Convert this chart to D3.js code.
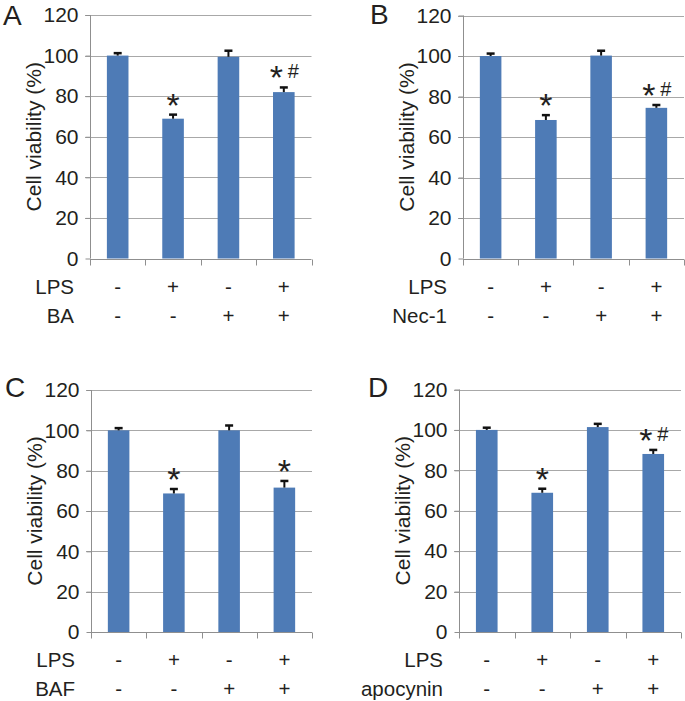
<!DOCTYPE html>
<html>
<head>
<meta charset="utf-8">
<script src="https://cdn.jsdelivr.net/npm/d3@7"></script>
<style>
  html, body { margin: 0; padding: 0; background: #fff; }
  svg text { font-family: "Liberation Sans", Arial, sans-serif; fill: #231f20; }
</style>
</head>
<body>
<svg id="chart" width="685" height="701"></svg>
<script>
// ---------- data ----------
const categories = ["g1", "g2", "g3", "g4"];
const yTicks = [0, 20, 40, 60, 80, 100, 120];
const panelLetters = ["A", "B", "C", "D"];
const treatmentNames = ["BA", "Nec-1", "BAF", "apocynin"];
const lpsSigns = ["-", "+", "-", "+"];
const treatmentSigns = ["-", "-", "+", "+"];

const valuesA = [100, 68.9, 99.4, 82.0];
const errorsA = [1.2, 2.0, 3.0, 2.3];
const starsA = ["", "*", "", "*"];
const hashesA = ["", "", "", "#"];

const valuesB = [100, 68.4, 100.2, 74.4];
const errorsB = [1.2, 2.4, 2.4, 1.4];
const starsB = ["", "*", "", "*"];
const hashesB = ["", "", "", "#"];

const valuesC = [100, 68.7, 100, 71.6];
const errorsC = [1.1, 2.2, 2.4, 3.3];
const starsC = ["", "*", "", "*"];
const hashesC = ["", "", "", ""];

const valuesD = [100, 68.9, 101.4, 88.1];
const errorsD = [1.1, 2.0, 1.6, 2.0];
const starsD = ["", "*", "", "*"];
const hashesD = ["", "", "", "#"];

// ---------- layout ----------
const panels = [
  { letter: panelLetters[0], treat: treatmentNames[0], values: valuesA, errors: errorsA, stars: starsA, hashes: hashesA,
    left: 90, right: 311.5, top: 15, bottom: 258.5, letterX: 3, letterY: 25 },
  { letter: panelLetters[1], treat: treatmentNames[1], values: valuesB, errors: errorsB, stars: starsB, hashes: hashesB,
    left: 463, right: 684, top: 15.5, bottom: 258.5, letterX: 370, letterY: 24 },
  { letter: panelLetters[2], treat: treatmentNames[2], values: valuesC, errors: errorsC, stars: starsC, hashes: hashesC,
    left: 91, right: 312, top: 390, bottom: 632, letterX: 5, letterY: 397 },
  { letter: panelLetters[3], treat: treatmentNames[3], values: valuesD, errors: errorsD, stars: starsD, hashes: hashesD,
    left: 459, right: 681, top: 389.5, bottom: 632, letterX: 368, letterY: 397 }
];

const barColor = "#4e7bb6";
const gridColor = "#a8a8a8";
const axisColor = "#8f8f8f";

const svg = d3.select("#chart");

panels.forEach(p => {
  const g = svg.append("g");
  const x = d3.scaleBand().domain(categories).range([p.left, p.right]).paddingInner(0.61).paddingOuter(0.305);
  const y = d3.scaleLinear().domain([0, 120]).range([p.bottom, p.top]);

  // gridlines (with small left ticks)
  g.append("g").selectAll("line").data(yTicks.filter(t => t > 0)).join("line")
    .attr("x1", p.left - 5).attr("x2", p.right)
    .attr("y1", d => Math.round(y(d)) + 0.5).attr("y2", d => Math.round(y(d)) + 0.5)
    .attr("stroke", gridColor).attr("stroke-width", 1);

  // y axis
  const yAxis = d3.axisLeft(y).tickValues(yTicks).tickSize(5).tickPadding(7);
  const ya = g.append("g").attr("transform", `translate(${Math.round(p.left) + 0.5},0)`).call(yAxis);
  ya.select(".domain").attr("stroke", axisColor).attr("d", `M0,${y(120)}V${y(0)}`);
  ya.selectAll(".tick line").attr("stroke", axisColor);
  ya.selectAll(".tick text").attr("font-size", 21).attr("fill", "#231f20")
    .style("font-family", '"Liberation Sans", Arial, sans-serif');

  // bars
  g.append("g").selectAll("rect").data(p.values).join("rect")
    .attr("x", (d, i) => x(categories[i]))
    .attr("width", x.bandwidth())
    .attr("y", d => y(d))
    .attr("height", d => y(0) - y(d))
    .attr("fill", barColor);

  // error bars
  const eb = g.append("g");
  p.values.forEach((v, i) => {
    const cx = x(categories[i]) + x.bandwidth() / 2;
    const yt = y(v + p.errors[i]);
    eb.append("line").attr("x1", cx).attr("x2", cx).attr("y1", y(v)).attr("y2", yt)
      .attr("stroke", "#111").attr("stroke-width", 2);
    eb.append("line").attr("x1", cx - 4).attr("x2", cx + 4).attr("y1", yt).attr("y2", yt)
      .attr("stroke", "#111").attr("stroke-width", 2.5);
  });

  // x axis with band-boundary ticks
  const xa = g.append("g").attr("transform", `translate(0,${Math.round(y(0)) + 0.5})`);
  xa.append("line").attr("x1", p.left).attr("x2", p.right).attr("stroke", axisColor);
  const bounds = categories.map(c => x(c) - x.step() * x.paddingInner() / 2).concat([p.right]);
  xa.selectAll("line.tk").data(bounds).join("line").attr("class", "tk")
    .attr("x1", d => Math.round(d) + 0.5).attr("x2", d => Math.round(d) + 0.5)
    .attr("y1", 0).attr("y2", 6).attr("stroke", axisColor);

  // significance marks
  p.values.forEach((v, i) => {
    const cx = x(categories[i]) + x.bandwidth() / 2;
    const capY = y(v + p.errors[i]);
    const both = p.stars[i] && p.hashes[i];
    if (p.stars[i]) {
      g.append("text").attr("x", both ? cx - 7.5 : cx).attr("y", capY + 2)
        .attr("text-anchor", "middle").attr("font-size", 34).text(p.stars[i]);
    }
    if (p.hashes[i]) {
      g.append("text").attr("x", cx + 9.5).attr("y", capY - 9)
        .attr("text-anchor", "middle").attr("font-size", 20).text(p.hashes[i]);
    }
  });

  // condition rows
  const rowY1 = y(0) + 35, rowY2 = y(0) + 64;
  g.append("text").attr("x", p.left - 16).attr("y", rowY1).attr("text-anchor", "end")
    .attr("font-size", 20.5).text("LPS");
  g.append("text").attr("x", p.left - 16).attr("y", rowY2).attr("text-anchor", "end")
    .attr("font-size", 20.5).text(p.treat);
  categories.forEach((c, i) => {
    const cx = x(c) + x.bandwidth() / 2;
    g.append("text").attr("x", cx).attr("y", rowY1).attr("text-anchor", "middle")
      .attr("font-size", 20.5).text(lpsSigns[i]);
    g.append("text").attr("x", cx).attr("y", rowY2).attr("text-anchor", "middle")
      .attr("font-size", 20.5).text(treatmentSigns[i]);
  });

  // y title
  const tcx = p.left - 49, tcy = (y(0) + y(120)) / 2;
  g.append("text").attr("transform", `translate(${tcx},${tcy}) rotate(-90)`)
    .attr("text-anchor", "middle").attr("font-size", 21).text("Cell viability (%)");

  // panel letter
  g.append("text").attr("x", p.letterX).attr("y", p.letterY).attr("font-size", 28).text(p.letter);
});
</script>
</body>
</html>
